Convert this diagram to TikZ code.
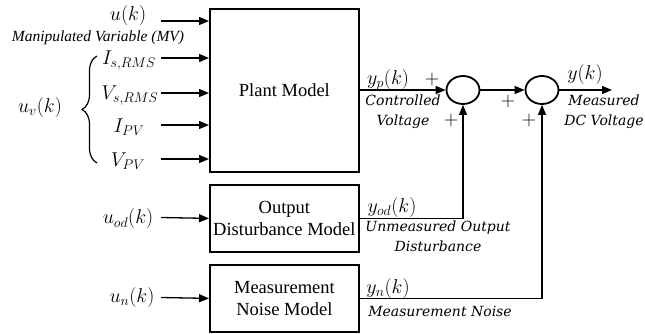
\documentclass[tikz,border=0pt]{standalone}
\usepackage{fix-cm}
\usepackage{fontspec}
\setmainfont{Liberation Serif}
\newfontfamily\annotfont{DejaVu Serif}
\usetikzlibrary{shapes.geometric,arrows.meta,decorations.pathreplacing}
\begin{document}
\begin{tikzpicture}[x=1pt,y=-1pt,
  box/.style={draw,line width=1.8pt,minimum width=149pt,anchor=north west,inner sep=0pt,font=\fontsize{18.5}{22}\selectfont,align=center},
  sumnode/.style={draw,ellipse,line width=1.8pt,minimum width=33pt,minimum height=28pt,inner sep=0pt},
  arr/.style={line width=1.3pt,-{Triangle[length=10pt,width=8pt]}},
  mlab/.style={font=\fontsize{20}{22}\selectfont,inner sep=0pt},
  ann/.style={font=\annotfont\itshape\fontsize{14}{20}\selectfont,align=center,inner sep=0pt},
  mvlab/.style={font=\itshape\fontsize{15.5}{18}\selectfont,inner sep=0pt}]
\useasboundingbox (0,0) rectangle (645,334);

% blocks
\node[box,minimum height=163pt] (plant) at (209,8) {Plant Model};
\node[box,minimum height=67pt] (od) at (209,184) {Output\\Disturbance Model};
\node[box,minimum height=67pt] (mn) at (209,264) {Measurement\\Noise Model};

% summing junctions
\node[sumnode] (s1) at (463,90) {};
\node[sumnode] (s2) at (542,90) {};

% input start points
\coordinate (iu) at (161,21);
\coordinate (iis) at (161,58);
\coordinate (ivs) at (161,93);
\coordinate (iip) at (161,125);
\coordinate (ivp) at (161,159);
\coordinate (iod) at (161,217.5);
\coordinate (inn) at (161,297.5);
\coordinate (yout) at (612,90);

\draw[arr] (iu) -- (iu -| plant.west);
\draw[arr] (iis) -- (iis -| plant.west);
\draw[arr] (ivs) -- (ivs -| plant.west);
\draw[arr] (iip) -- (iip -| plant.west);
\draw[arr] (ivp) -- (ivp -| plant.west);
\draw[arr] (iod) -- (od.west);
\draw[arr] (inn) -- (mn.west);

% outputs
\draw[arr] (plant.east |- s1.west) -- (s1.west);
\draw[arr] (s1.east) -- (s2.west);
\draw[arr] (s2.east) -- (yout);
\draw[arr] (od.east) -| (s1.south);
\draw[arr] (mn.east) -| (s2.south);

% brace
\draw[line width=1.2pt,decorate,decoration={brace,amplitude=15pt}] (97,163) -- (97,56);

% input labels
\node[mlab] (lu) at (128,16) {$u(k)$};
\node[mvlab] (lmv) at (98,38) {Manipulated Variable (MV)};
\node[mlab] (lis) at (129,61) {$I_{s,RMS}$};
\node[mlab] (lvs) at (130,96) {$V_{s,RMS}$};
\node[mlab] (lip) at (129,127) {$I_{PV}$};
\node[mlab] (lvp) at (128,161) {$V_{PV}$};
\node[mlab] (luv) at (40,108) {$u_v(k)$};
\node[mlab] (luod) at (128,219) {$u_{od}(k)$};
\node[mlab] (lun) at (132,297) {$u_n(k)$};

% output labels
\node[mlab] (lyp) at (388,80) {$y_p(k)$};
\node[mlab] (p1) at (432,80) {$+$};
\node[ann] (lcv) at (403,112) {Controlled\\Voltage};
\node[mlab] (p2) at (451,121) {$+$};
\node[mlab] (p3) at (508,102) {$+$};
\node[mlab] (p4) at (529,121) {$+$};
\node[mlab] (ly) at (585,75) {$y(k)$};
\node[ann] (lmd) at (604,112) {Measured\\DC Voltage};
\node[mlab] (lyod) at (392,207) {$y_{od}(k)$};
\node[ann] (lud) at (438,236) {Unmeasured Output\\Disturbance};
\node[mlab] (lyn) at (388,288) {$y_n(k)$};
\node[ann] (lmn) at (440,311) {Measurement Noise};
\end{tikzpicture}
\end{document}
